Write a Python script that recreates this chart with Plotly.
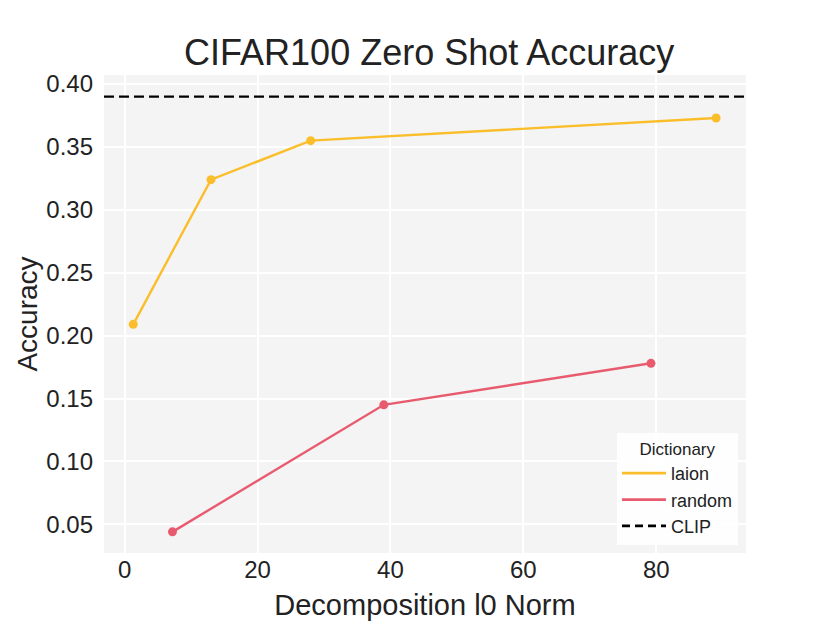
import plotly.graph_objects as go

# data
laion_l0 = [1.3, 13, 28, 89]
laion_acc = [0.209, 0.324, 0.355, 0.373]
random_l0 = [7.2, 39, 79.2]
random_acc = [0.044, 0.145, 0.178]
clip_acc = 0.390
x_range = [-3.1, 93.5]
y_range = [0.0272, 0.4072]

laion_color = '#fbbe2b'
random_color = '#e85b6f'

fig = go.Figure()

fig.add_trace(go.Scatter(
    x=laion_l0, y=laion_acc, name='laion', mode='lines+markers', showlegend=False,
    line=dict(color=laion_color, width=2.4), marker=dict(size=9),
))
fig.add_trace(go.Scatter(
    x=random_l0, y=random_acc, name='random', mode='lines+markers', showlegend=False,
    line=dict(color=random_color, width=2.4), marker=dict(size=9),
))
# CLIP baseline across the full axis
fig.add_trace(go.Scatter(
    x=x_range, y=[clip_acc, clip_acc], name='CLIP', mode='lines', showlegend=False,
    line=dict(color='black', width=2.4, dash='10px,5px'),
))

# legend entries drawn as plain lines, like the reference
for name, color, dash in [('laion', laion_color, 'solid'),
                          ('random', random_color, 'solid'),
                          ('CLIP', 'black', '8px,5px')]:
    fig.add_trace(go.Scatter(x=[None], y=[None], name=name, mode='lines',
                             line=dict(color=color, width=2.8, dash=dash)))

# the page body adds 8px, so the figure is 8px smaller than the window
fig.update_layout(
    width=822, height=615,
    paper_bgcolor='white', plot_bgcolor='#f4f4f4',
    font=dict(family='Liberation Sans, Arial', color='#222222'),
    margin=dict(l=96, r=84, t=67, b=70, autoexpand=False),
    title=dict(text='CIFAR100 Zero Shot Accuracy', x=0.5124, xanchor='center',
               y=0.927, yanchor='middle', font=dict(size=36)),
    legend=dict(
        title=dict(text='Dictionary', side='top center', font=dict(size=17)),
        font=dict(size=18), bgcolor='rgba(255,255,255,0.85)',
        x=0.9875, y=0.017, xanchor='right', yanchor='bottom',
        itemwidth=44, tracegroupgap=0,
    ),
    showlegend=True,
)
fig.update_xaxes(
    title=dict(text='Decomposition l0 Norm', font=dict(size=29), standoff=12),
    range=x_range, tickvals=[0, 20, 40, 60, 80], tickfont=dict(size=24),
    gridcolor='white', gridwidth=2, zeroline=False, showline=False, ticks='',
    automargin=False,
)
fig.update_yaxes(
    title=dict(text='Accuracy', font=dict(size=28), standoff=0),
    range=y_range, tickvals=[0.05, 0.10, 0.15, 0.20, 0.25, 0.30, 0.35, 0.40],
    tickformat='.2f', tickfont=dict(size=24), ticklabelstandoff=10,
    gridcolor='white', gridwidth=2, zeroline=False, showline=False, ticks='',
    automargin=False,
)

fig.write_html('out.html')
